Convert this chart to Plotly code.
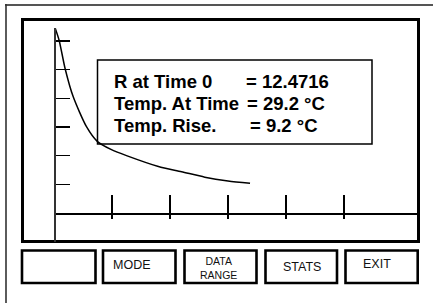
import plotly.graph_objects as go

# ---- data (time units / resistance units) ----
time_vals = [0.02, 0.09, 0.19, 0.33, 0.56, 0.75, 1.0, 1.25, 1.8, 2.2, 2.6, 3.0, 3.38]
r_vals = [6.45, 6.01, 5.05, 4.06, 3.01, 2.49, 2.2, 2.0, 1.62, 1.44, 1.25, 1.12, 1.04]
x_ticks = [1, 2, 3, 4, 5]
y_ticks = [1, 2, 3, 4, 5, 6]

info_labels = ["R at Time 0", "Temp. At Time", "Temp. Rise."]
info_values = ["= 12.4716", "= 29.2 \u00b0C", "= 9.2 \u00b0C"]
button_labels = ["", "MODE", "DATA<br>RANGE", "STATS", "EXIT"]

W, H = 433, 303


def fx(px):
    return px / W


def fy(py):
    return 1 - py / H


X_UNIT = 58.0
Y_UNIT = 28.67
X0_PX, Y0_PX = 54, 213

fig = go.Figure()
fig.add_trace(go.Scatter(
    x=time_vals, y=r_vals, mode="lines",
    line=dict(color="black", width=1.5, shape="spline", smoothing=0.7),
    hoverinfo="skip", showlegend=False, cliponaxis=False,
))
# empty trace to register secondary x axis (downward tick stubs)
fig.add_trace(go.Scatter(x=[], y=[], xaxis="x2", yaxis="y", showlegend=False, hoverinfo="skip"))

x_right_px = 418.5
y_top_px, y_bot_px = 28, 241.5
xrange = [0, (x_right_px - X0_PX) / X_UNIT]
yrange = [(Y0_PX - y_bot_px) / Y_UNIT, (Y0_PX - y_top_px) / Y_UNIT]

common_x = dict(domain=[fx(X0_PX), fx(x_right_px)], range=xrange, anchor="free",
                position=fy(Y0_PX), tickvals=x_ticks, showticklabels=False,
                showgrid=False, zeroline=False, fixedrange=True,
                tickcolor="black", tickwidth=1.5)

shapes = []
# outer frame (partially cut by picture edge)
shapes.append(dict(type="line", xref="paper", yref="paper", x0=fx(5), x1=fx(433), y0=fy(5), y1=fy(5),
                   line=dict(color="#555555", width=2)))
shapes.append(dict(type="line", xref="paper", yref="paper", x0=fx(6), x1=fx(6), y0=fy(4), y1=fy(303),
                   line=dict(color="#333333", width=1.6)))
# screen box
shapes.append(dict(type="rect", xref="paper", yref="paper", x0=fx(22.5), x1=fx(418.5), y0=fy(19.5), y1=fy(241.5),
                   line=dict(color="black", width=3), layer="below"))
# info box
shapes.append(dict(type="rect", xref="paper", yref="paper", x0=fx(97.5), x1=fx(372), y0=fy(60), y1=fy(144),
                   line=dict(color="black", width=1.5), fillcolor="white", layer="below"))

btn_x = [(22, 95.5), (103, 175.5), (184.5, 256.5), (265.5, 337), (345.5, 417.7)]
btn_top, btn_bot = 250.5, 283
for (a, b) in btn_x:
    shapes.append(dict(type="rect", xref="paper", yref="paper", x0=fx(a), x1=fx(b), y0=fy(btn_top), y1=fy(btn_bot),
                       line=dict(color="black", width=2.6)))

annotations = []
info_font = dict(family="Liberation Sans, Arial, sans-serif", size=18.5, color="black")
line_y = [81, 103, 125.5]
val_x = [243.5, 244.5, 248]
for i in range(3):
    annotations.append(dict(xref="paper", yref="paper", x=fx(112), y=fy(line_y[i]), text="<b>%s</b>" % info_labels[i],
                            xanchor="left", yanchor="middle", showarrow=False, font=info_font))
    annotations.append(dict(xref="paper", yref="paper", x=fx(val_x[i]), y=fy(line_y[i]), text="<b>%s</b>" % info_values[i],
                            xanchor="left", yanchor="middle", showarrow=False, font=info_font))

btn_text_pos = [(59, 266), (131.5, 265), (218.5, 268), (302, 266.5), (376.5, 263.5)]
btn_sizes = [12.5, 12.5, 10.5, 12.5, 12.5]
for lab, (bx, by), fs in zip(button_labels, btn_text_pos, btn_sizes):
    if not lab:
        continue
    annotations.append(dict(xref="paper", yref="paper", x=fx(bx), y=fy(by), text=lab,
                            xanchor="center", yanchor="middle", showarrow=False,
                            font=dict(family="Liberation Sans, Arial, sans-serif", size=fs, color="#111111")))

fig.update_layout(
    width=W, height=H, autosize=False,
    margin=dict(l=0, r=0, t=0, b=0, pad=0),
    paper_bgcolor="white", plot_bgcolor="rgba(0,0,0,0)",
    showlegend=False,
    xaxis=dict(**common_x, showline=True, linecolor="black", linewidth=1.5,
               ticks="inside", ticklen=18),
    xaxis2=dict(**common_x, overlaying="x", showline=False, ticks="outside", ticklen=5),
    yaxis=dict(domain=[fy(y_bot_px), fy(y_top_px)], range=yrange, anchor="free", position=fx(X0_PX),
               showline=True, linecolor="#333333", linewidth=1.5, ticks="inside", ticklen=14,
               tickwidth=1.5, tickcolor="black", tickvals=y_ticks, showticklabels=False,
               showgrid=False, zeroline=False, fixedrange=True),
    shapes=shapes, annotations=annotations,
)

fig.write_html("out.html", config={"displayModeBar": False, "staticPlot": True},
               post_script="document.body.style.margin='0px';")
